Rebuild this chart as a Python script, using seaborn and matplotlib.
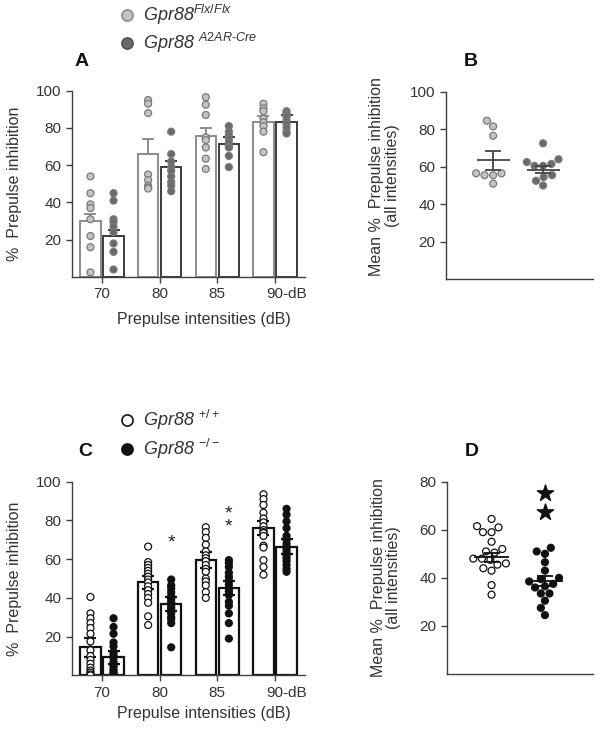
import matplotlib
matplotlib.use("Agg")
import numpy as np
import pandas as pd
import matplotlib.pyplot as plt
from matplotlib.lines import Line2D
from matplotlib.transforms import ScaledTranslation
import seaborn as sns

# ---- values ----
intensities = ["70", "80", "85", "90"]
tick_labels = ["70", "80", "85", "90-dB"]

# Panel A / B : Gpr88 Flx/Flx vs Gpr88 A2AR-Cre
ab_groups = ["Flx/Flx", "A2AR-Cre"]
a_flx_mean = [30, 66, 75.5, 83]
a_flx_sem = [4, 8, 4.5, 3.5]
a_cre_mean = [22, 59, 71.5, 83]
a_cre_sem = [3, 3, 3.5, 4]
a_flx_points = [
    [54, 45, 39, 37, 31, 22, 16, 2.5],
    [95, 93, 88, 55, 52, 49, 48, 47.5],
    [96.5, 92.5, 87, 75, 73.5, 69.5, 63.5, 58],
    [93, 90.5, 89, 85, 83, 81, 78, 67],
]
a_cre_points = [
    [45, 41, 31, 29.5, 27, 24, 18, 13.5, 4],
    [78, 66, 62, 59, 57, 54, 51, 49, 46],
    [81, 78, 76, 74, 72, 70, 69.5, 65, 59],
    [89, 88, 87, 86, 84, 82, 80, 78, 77],
]
b_flx = [84.5, 81.5, 76.5, 56.5, 56.5, 55.5, 55.5, 51]
b_cre = [72.5, 64, 62.5, 61.5, 60.5, 60.5, 55.5, 54.5, 52.5, 50]
b_mean = [63.5, 58.5]
b_sem = [5, 2]

# Panel C / D : Gpr88 +/+ vs Gpr88 -/-
cd_groups = ["+/+", "-/-"]
c_wt_mean = [14.5, 48, 59.5, 76]
c_wt_sem = [5, 3.5, 4.3, 3.5]
c_ko_mean = [9.3, 37, 45, 66.4]
c_ko_sem = [3.5, 3.5, 3.5, 3.8]
c_wt_points = [
    [40.5, 32, 29.5, 27, 24.5, 21.5, 17.5, 13, 10, 8, 6, 4, 2.5, 1.5, 0.5, 0],
    [66.5, 58.5, 57, 55.5, 54, 52.5, 51, 49.5, 48, 46, 44, 42, 40, 37.5, 30.5, 26],
    [76.5, 74, 71, 67.5, 64, 62, 60.5, 59, 57, 55, 53.5, 50, 48.5, 46.5, 43, 40],
    [93.5, 91, 88, 84, 81, 79, 77, 75, 74, 73.5, 72, 67, 66, 59.5, 56, 52],
]
c_ko_points = [
    [29.5, 25, 21.5, 17, 15, 12, 10.5, 9, 7, 5.5, 4.5, 3, 2, 1, 0.5, 0],
    [49.5, 46.5, 45, 43, 41, 39.5, 38, 37, 35.5, 34.5, 33, 32, 30, 29, 27, 14.5],
    [59.5, 58, 56, 53, 51, 49, 47, 45, 43.5, 42, 41.5, 38, 36, 32, 27, 19],
    [86, 83, 79.5, 76, 72, 70, 68, 66.5, 65, 63.5, 62, 60.5, 59, 57, 55, 53.5],
]
c_sig_80 = ["*"]
c_sig_85 = ["*\n*"]
c_sig_y = [68.5, 80]
d_wt = [64.5, 61.5, 61, 59, 59, 55, 52, 51, 50.5, 48, 48, 47.5, 46, 45.5, 44, 43, 37, 33]
d_ko = [52.5, 51, 50, 46.5, 43, 40, 39.5, 38.5, 37.5, 36.5, 36, 33.5, 33.5, 30.5, 27.5, 24.5]
d_mean = [48.5, 38.8]
d_sem = [2, 2]
d_sig = [75.5, 67.5]

# ---- style ----
sns.set_style("ticks")
plt.rcParams["font.family"] = ["Liberation Sans", "DejaVu Sans"]
plt.rcParams["mathtext.fontset"] = "custom"
plt.rcParams["mathtext.rm"] = "Liberation Sans"
plt.rcParams["mathtext.it"] = "Liberation Sans:italic"
TXT = "#333333"
AX = "#404040"

fig = plt.figure(figsize=(6.04, 7.37), dpi=100)
W, H = 604, 737


def px_axes(left, top, right, bottom):
    return fig.add_axes([left / W, 1 - bottom / H, (right - left) / W, (bottom - top) / H])


def style_axes(ax):
    sns.despine(ax=ax)
    for s in ["left", "bottom"]:
        ax.spines[s].set_color(AX)
        ax.spines[s].set_linewidth(1)
    ax.tick_params(labelsize=11, length=4, width=1, color=AX, labelcolor=TXT)


def long_points(groups, pts_a, pts_b):
    rows = []
    for i, lvl in enumerate(intensities):
        rows += [(lvl, groups[0], v) for v in pts_a[i]]
        rows += [(lvl, groups[1], v) for v in pts_b[i]]
    return pd.DataFrame(rows, columns=["intensity", "genotype", "pi"])


def bar_panel(ax, groups, means, sems, pts_a, pts_b, edge_pal, dot_pal, dot_edge,
              lw, both_sides):
    bars = pd.DataFrame({
        "intensity": intensities * 2,
        "genotype": [groups[0]] * 4 + [groups[1]] * 4,
        "mean": list(means[0]) + list(means[1]),
    })
    sns.barplot(data=bars, x="intensity", y="mean", hue="genotype", order=intensities,
                hue_order=groups, palette=edge_pal, fill=False, gap=0.12,
                linewidth=lw, errorbar=None, legend=False, ax=ax)
    containers = list(ax.containers)
    for cont, m, s, col in zip(containers, means, sems, edge_pal.values()):
        xs = [b.get_x() + b.get_width() / 2 for b in cont]
        low = np.array(s) if both_sides else np.zeros(len(s))
        ax.errorbar(xs, m, yerr=[low, np.array(s)], fmt="none", ecolor=col,
                    elinewidth=lw, capsize=4.5, capthick=lw, zorder=3)
    pts = long_points(groups, pts_a, pts_b)
    sns.stripplot(data=pts, x="intensity", y="pi", hue="genotype", order=intensities,
                  hue_order=groups, palette=dot_pal, dodge=True, jitter=False,
                  size=5, edgecolor=dot_edge, linewidth=0.9, legend=False, ax=ax, zorder=4)
    ax.set_xlim(-0.52, 3.52)
    ax.set_ylim(0, 100)
    ax.set_yticks([20, 40, 60, 80, 100])
    ax.set_xticks(range(4), tick_labels)
    style_axes(ax)
    last = ax.get_xticklabels()[-1]
    last.set_horizontalalignment("left")
    last.set_transform(last.get_transform() + ScaledTranslation(-0.085, 0, fig.dpi_scale_trans))
    ax.set_ylabel("%  Prepulse inhibition", fontsize=11.5, color=TXT)
    ax.yaxis.set_label_coords(-0.215, 0.5)
    ax.set_xlabel("Prepulse intensities (dB)", fontsize=11.5, color=TXT)
    return containers


def mean_panel(ax, groups, vals_a, vals_b, mean, sem, dot_pal, dot_edge, line_col, ylim):
    pts = pd.DataFrame({"genotype": [groups[0]] * len(vals_a) + [groups[1]] * len(vals_b),
                        "pi": list(vals_a) + list(vals_b)})
    sns.swarmplot(data=pts, x="genotype", y="pi", hue="genotype", order=groups,
                  hue_order=groups, palette=dot_pal, size=5, edgecolor=dot_edge,
                  linewidth=0.9, legend=False, ax=ax, zorder=3)
    xs = np.arange(len(groups))
    ax.hlines(mean, xs - 0.33, xs + 0.33, color=line_col, lw=1.3, zorder=4)
    ax.errorbar(xs, mean, yerr=sem, fmt="none", ecolor=line_col, elinewidth=1.3,
                capsize=5.5, capthick=1.3, zorder=4)
    ax.set_ylim(*ylim)
    ax.set_xticks([])
    ax.set_xlabel("")
    style_axes(ax)
    ax.set_ylabel("Mean %  Prepulse inhibition\n(all intensities)", fontsize=11.5,
                  color=TXT, linespacing=1.05)


# ---- Panel A ----
axA = px_axes(72, 90.7, 305, 277)
bar_panel(axA, ab_groups, [a_flx_mean, a_cre_mean], [a_flx_sem, a_cre_sem],
          a_flx_points, a_cre_points,
          edge_pal={"Flx/Flx": "#8c8c8c", "A2AR-Cre": "#3c3c3c"},
          dot_pal={"Flx/Flx": "#c4c4c4", "A2AR-Cre": "#6a6a6a"},
          dot_edge="#7a7a7a", lw=1.4, both_sides=False)
axA.xaxis.set_label_coords(0.567, -0.19)

# ---- Panel B ----
axB = px_axes(445.7, 91.7, 593, 279.3)
mean_panel(axB, ab_groups, b_flx, b_cre, b_mean, b_sem,
           {"Flx/Flx": "#c4c4c4", "A2AR-Cre": "#6a6a6a"}, "#7a7a7a", "#444444", (0, 100))
axB.set_yticks([20, 40, 60, 80, 100])
axB.set_xlim(-0.95, 2.0)
axB.yaxis.set_label_coords(-0.31, 0.55)

# ---- Panel C ----
axC = px_axes(72, 481.7, 305, 675.4)
contC = bar_panel(axC, cd_groups, [c_wt_mean, c_ko_mean], [c_wt_sem, c_ko_sem],
                  c_wt_points, c_ko_points,
                  edge_pal={"+/+": "#111111", "-/-": "#111111"},
                  dot_pal={"+/+": "white", "-/-": "#111111"},
                  dot_edge="#111111", lw=1.6, both_sides=True)
axC.xaxis.set_label_coords(0.567, -0.16)
for bar_idx, marks, y in [(1, c_sig_80, c_sig_y[0]), (2, c_sig_85, c_sig_y[1])]:
    b = contC[1][bar_idx]
    axC.text(b.get_x() + b.get_width() / 2, y, marks[0], ha="center", va="center",
             fontsize=14, color="#222222", linespacing=0.75)

# ---- Panel D ----
axD = px_axes(446.7, 481.7, 593, 674)
mean_panel(axD, cd_groups, d_wt, d_ko, d_mean, d_sem,
           {"+/+": "white", "-/-": "#111111"}, "#111111", "#111111", (0, 80))
axD.set_yticks([20, 40, 60, 80])
axD.set_xlim(-0.84, 1.9)
axD.scatter([1] * len(d_sig), d_sig, marker="*", s=150, color="#111111", zorder=5)
axD.yaxis.set_label_coords(-0.31, 0.5)

# ---- panel letters and legends ----
for letter, x, y in [("A", 82, 62), ("B", 471, 62), ("C", 85, 452), ("D", 472, 452)]:
    fig.text(x / W, 1 - y / H, letter, fontsize=14, fontweight="bold", color="#111111",
             ha="center", va="center")

legend_rows = [
    (15, "#c4c4c4", "#8c8c8c", "Gpr88$^{Flx/Flx}$"),
    (43, "#6a6a6a", "#505050", r"Gpr88 $^{A2AR\text{-}Cre}$"),
    (420, "white", "#111111", "Gpr88 $^{+/+}$"),
    (449, "#111111", "#111111", "Gpr88 $^{-/-}$"),
]
for y, face, edge, label in legend_rows:
    fig.add_artist(Line2D([127 / W], [1 - y / H], transform=fig.transFigure, marker="o",
                          markersize=8, markerfacecolor=face, markeredgecolor=edge,
                          markeredgewidth=1.2, linestyle="none"))
    fig.text(143 / W, 1 - y / H, label, fontsize=13, style="italic", color=TXT,
             ha="left", va="center")

fig.savefig("out.png", dpi=100)
